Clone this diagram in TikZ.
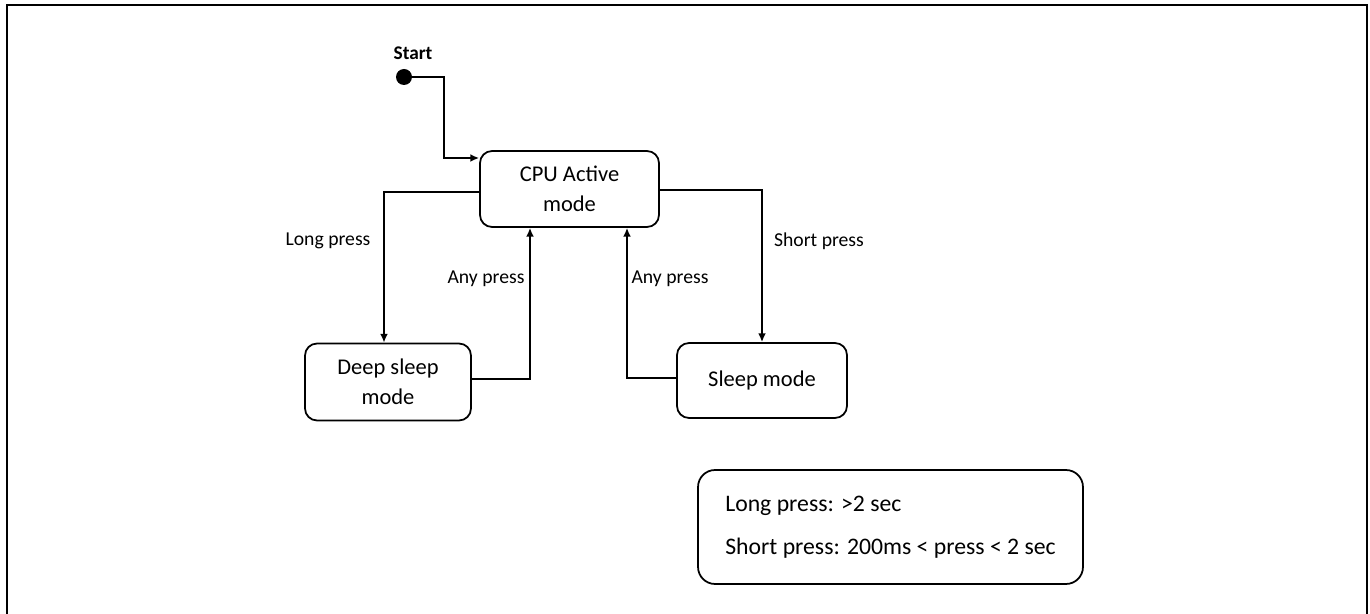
\documentclass[tikz,border=0pt]{standalone}
\usepackage{fontspec}
\setmainfont{Carlito}
\usetikzlibrary{calc,arrows.meta}
\begin{document}
\begin{tikzpicture}[x=0.02cm,y=-0.02cm,
  state/.style={draw, line width=1pt, rounded corners=0.24cm, inner sep=0pt, align=center,
                font=\fontsize{12.8}{17}\selectfont},
  conn/.style={line width=1pt, -{Latex[length=5pt,width=4.5pt]}},
  lbl/.style={inner sep=0pt, font=\fontsize{11.2}{13}\selectfont}]
\useasboundingbox (0,0) rectangle (1370,614);
\draw[line width=1.3pt] (7,614) -- (7,5) -- (1367,5) -- (1367,614);
% states
\node[state, minimum width=3.58cm, minimum height=1.52cm] (cpu) at (569.5,189) {CPU Active\\mode};
\node[state, minimum width=3.32cm, minimum height=1.54cm] (deep) at (388,382) {Deep sleep\\mode};
\node[state, minimum width=3.4cm, minimum height=1.5cm] (sleep) at (762,380.5) {Sleep mode};
% start
\node[inner sep=0pt, font=\bfseries\fontsize{11}{13}\selectfont] (starttxt) at (413,53) {Start};
\node[circle, fill, inner sep=0pt, minimum size=0.32cm] (dot) at (404,77) {};
\coordinate (bend) at (444,158);
\draw[line width=1.6pt, -{Latex[length=5pt,width=4.5pt]}] (dot.center) -| (bend) -- (cpu.west |- bend);
% transitions
\draw[conn] ($(cpu.west)+(0,3)$) -| ($(deep.north)+(-4,0)$);
\draw[conn] ($(cpu.east)+(0,1)$) -| (sleep.north);
\draw[conn] ($(deep.east)+(0,-3)$) -| ($(cpu.south)+(-39.5,0)$);
\draw[conn] ($(sleep.west)+(0,-2.5)$) -| ($(cpu.south)+(57.5,0)$);
% labels
\node[lbl] (l1) at (328,241) {Long press};
\node[lbl] (l2) at (486,279) {Any press};
\node[lbl] (l3) at (670,279) {Any press};
\node[lbl] (l4) at (819,241) {Short press};
% legend
\node[draw, line width=1pt, rounded corners=0.34cm, minimum width=7.7cm, minimum height=2.28cm,
      inner sep=0pt, align=left, font=\fontsize{13.5}{24.4}\selectfont] (legend) at (890.5,527)
  {Long press: >2 sec\\Short press: 200ms < press < 2 sec};
\end{tikzpicture}
\end{document}
